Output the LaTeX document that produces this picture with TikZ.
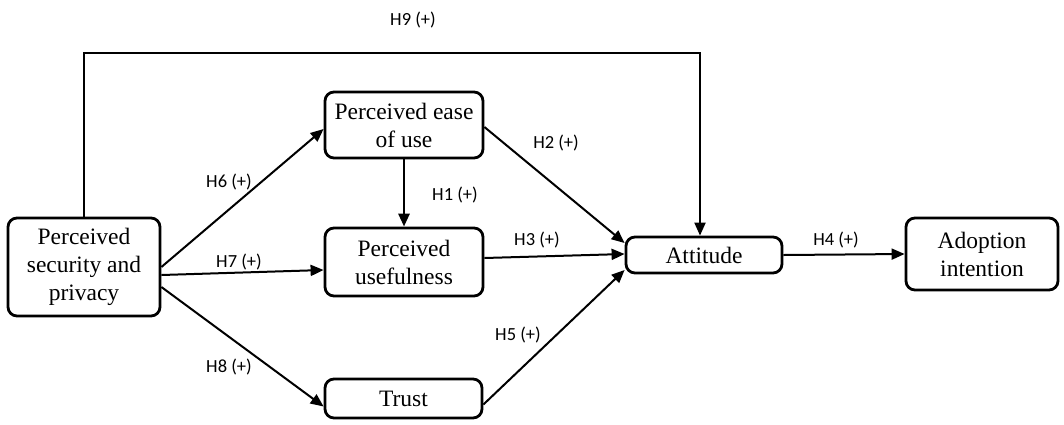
\documentclass[tikz,border=0pt]{standalone}
\usepackage{fontspec}
\setmainfont{Liberation Serif}
\newfontfamily\lblfont{Carlito}
\usetikzlibrary{arrows.meta}
\begin{document}
\begin{tikzpicture}[x=1pt,y=-1pt,
  box/.style={draw, line width=2.8pt, rounded corners=9pt, align=center, inner sep=0pt,
    font=\fontsize{23.5}{28}\selectfont},
  arr/.style={line width=2pt, -{Triangle[length=13pt,width=11pt]}},
  lbl/.style={font=\lblfont\fontsize{18.5}{20}\selectfont, inner sep=0pt}]
\useasboundingbox (0,0) rectangle (1064,424);
\node[box, minimum width=152pt, minimum height=98pt] (PSP) at (84,267) {Perceived\\security and\\privacy};
\node[box, minimum width=158pt, minimum height=66pt] (PEOU) at (404,125) {Perceived ease\\of use};
\node[box, minimum width=158pt, minimum height=68pt] (PU) at (404,262) {Perceived\\usefulness};
\node[box, minimum width=157pt, minimum height=39pt] (TR) at (403.5,398.5) {Trust};
\node[box, minimum width=156pt, minimum height=36pt] (AT) at (704,255) {Attitude};
\node[box, minimum width=152pt, minimum height=72pt] (AD) at (982,254) {Adoption\\intention};
\coordinate (top) at (0,53);
\coordinate (h9end) at ([xshift=-4pt]AT.north);
\draw[arr] (PSP.north) -- (PSP.north |- top) -- (h9end |- top) -- (h9end);
\draw[arr] (PSP.east) -- ([yshift=-4pt]PEOU.west);
\draw[arr] ([yshift=-8pt]PSP.east) -- ([yshift=-8pt]PU.west);
\draw[arr] ([yshift=-20pt]PSP.east) -- ([yshift=-8pt]TR.west);
\draw[arr, line width=2.8pt] (PEOU.south) -- (PU.north);
\draw[arr] ([yshift=-2pt]PEOU.east) -- ([yshift=12pt]AT.west);
\draw[arr] ([yshift=4pt]PU.east) -- ([yshift=1pt]AT.west);
\draw[arr] ([yshift=-6pt]TR.east) -- ([yshift=-15pt]AT.west);
\draw[arr] (AT.east) -- (AD.west);
\node[lbl] (l9) at (413,20) {H9 (+)};
\node[lbl] (l6) at (229,182) {H6 (+)};
\node[lbl] (l1) at (455,195) {H1 (+)};
\node[lbl] (l2) at (556,143) {H2 (+)};
\node[lbl] (l7) at (239,262) {H7 (+)};
\node[lbl] (l3) at (537,240) {H3 (+)};
\node[lbl] (l8) at (229,367) {H8 (+)};
\node[lbl] (l5) at (518,335) {H5 (+)};
\node[lbl] (l4) at (836,240) {H4 (+)};
\end{tikzpicture}
\end{document}
